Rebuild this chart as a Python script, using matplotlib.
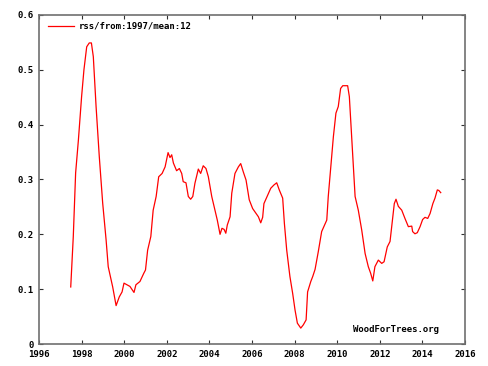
import matplotlib
matplotlib.use("Agg")
import matplotlib.pyplot as plt

# RSS anomaly, 12-month mean
years = [
    1997.49, 1997.61, 1997.72, 1997.85, 1998.00, 1998.11, 1998.24, 1998.36,
    1998.46, 1998.55, 1998.68, 1998.83, 1998.99, 1999.15, 1999.25, 1999.46,
    1999.62, 1999.77, 1999.90, 1999.99, 2000.27, 2000.46, 2000.55, 2000.74,
    2000.92, 2001.00, 2001.10, 2001.25, 2001.36, 2001.50, 2001.62, 2001.78,
    2001.92, 2002.06, 2002.15, 2002.23, 2002.31, 2002.46, 2002.59, 2002.70,
    2002.77, 2002.90, 2003.01, 2003.12, 2003.22, 2003.32, 2003.48, 2003.59,
    2003.71, 2003.84, 2003.95, 2004.11, 2004.22, 2004.37, 2004.50, 2004.59,
    2004.69, 2004.77, 2004.84, 2004.97, 2005.05, 2005.20, 2005.36, 2005.47,
    2005.59, 2005.72, 2005.87, 2006.03, 2006.19, 2006.30, 2006.41, 2006.50,
    2006.56, 2006.72, 2006.88, 2007.03, 2007.16, 2007.28, 2007.44, 2007.52,
    2007.63, 2007.78, 2007.91, 2008.02, 2008.13, 2008.29, 2008.41, 2008.54,
    2008.61, 2008.76, 2008.85, 2008.96, 2009.11, 2009.27, 2009.43, 2009.51,
    2009.58, 2009.70, 2009.82, 2009.94, 2010.05, 2010.16, 2010.26, 2010.49,
    2010.57, 2010.68, 2010.84, 2010.99, 2011.15, 2011.31, 2011.46, 2011.57,
    2011.67, 2011.77, 2011.93, 2012.09, 2012.20, 2012.35, 2012.48, 2012.61,
    2012.68, 2012.76, 2012.87, 2013.03, 2013.18, 2013.34, 2013.50, 2013.54,
    2013.65, 2013.76, 2013.89, 2014.01, 2014.12, 2014.25, 2014.36, 2014.49,
    2014.59, 2014.70, 2014.77, 2014.86,
]
values = [
    0.104, 0.196, 0.312, 0.372, 0.451, 0.500, 0.542, 0.549,
    0.549, 0.524, 0.433, 0.342, 0.257, 0.190, 0.141, 0.104,
    0.070, 0.086, 0.095, 0.111, 0.105, 0.094, 0.108, 0.114,
    0.129, 0.135, 0.171, 0.196, 0.244, 0.269, 0.305, 0.311,
    0.323, 0.349, 0.340, 0.345, 0.330, 0.316, 0.320, 0.311,
    0.296, 0.294, 0.269, 0.264, 0.269, 0.293, 0.319, 0.311,
    0.325, 0.320, 0.305, 0.269, 0.251, 0.226, 0.200, 0.211,
    0.209, 0.202, 0.217, 0.232, 0.275, 0.311, 0.323, 0.329,
    0.314, 0.299, 0.263, 0.247, 0.238, 0.232, 0.221, 0.231,
    0.256, 0.270, 0.284, 0.290, 0.294, 0.281, 0.266, 0.220,
    0.171, 0.123, 0.092, 0.062, 0.038, 0.029, 0.035, 0.044,
    0.095, 0.114, 0.123, 0.136, 0.168, 0.205, 0.219, 0.226,
    0.269, 0.323, 0.378, 0.421, 0.433, 0.466, 0.471, 0.471,
    0.451, 0.378, 0.269, 0.244, 0.208, 0.165, 0.141, 0.129,
    0.115, 0.141, 0.153, 0.147, 0.150, 0.177, 0.187, 0.232,
    0.256, 0.264, 0.251, 0.244, 0.229, 0.214, 0.215, 0.205,
    0.201, 0.203, 0.214, 0.227, 0.231, 0.229, 0.238, 0.256,
    0.266, 0.281, 0.280, 0.276,
]
series_label = "rss/from:1997/mean:12"
x_ticks = list(range(1996, 2017, 2))
y_ticks = [0, 0.1, 0.2, 0.3, 0.4, 0.5, 0.6]
y_labels = ["0", "0.1", "0.2", "0.3", "0.4", "0.5", "0.6"]

font = {"family": "DejaVu Sans Mono", "weight": "bold", "size": 6.5}
frame_col = "#707070"

fig = plt.figure(figsize=(4.88, 3.66), dpi=100)
ax = fig.add_axes([0.0799, 0.0601, 0.873, 0.899])

ax.plot(years, values, color="#ff0000", linewidth=0.9, label=series_label)

ax.set_xlim(1996, 2016)
ax.set_ylim(0, 0.6)
ax.set_xticks(x_ticks)
ax.set_yticks(y_ticks)
ax.set_xticklabels([str(t) for t in x_ticks], fontdict=font)
ax.set_yticklabels(y_labels, fontdict=font)
ax.tick_params(direction="in", length=3, width=0.8, color="#303030",
               top=True, right=True, pad=4)
for sp in ax.spines.values():
    sp.set_color(frame_col)
    sp.set_linewidth(1.2)

leg = ax.legend(loc="upper left", frameon=False, prop=font,
                handlelength=2.9, handletextpad=0.5,
                borderaxespad=0.1, bbox_to_anchor=(0.01, 0.993))

ax.text(0.94, 0.045, "WoodForTrees.org", transform=ax.transAxes,
        ha="right", va="center", fontdict=font)

fig.savefig("out.png", dpi=100, facecolor="white")
